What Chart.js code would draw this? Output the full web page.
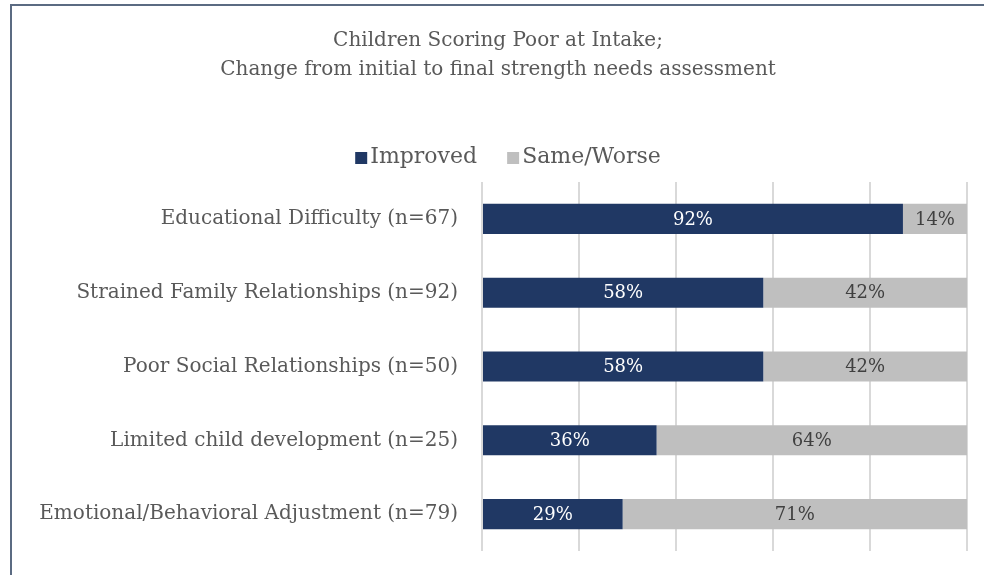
<!DOCTYPE html>
<html>
<head>
<meta charset="utf-8">
<script src="https://cdn.jsdelivr.net/npm/chart.js@4.4.0/dist/chart.umd.min.js"></script>
<style>
    html, body { margin: 0; padding: 0; background: #fff; overflow: hidden; }
    #frame {
        position: absolute; left: 10px; top: 4px; width: 980px; height: 580px;
        border-left: 2px solid #5b6b82; border-top: 2px solid #5b6b82;
    }
    #wrap { position: absolute; left: 12px; top: 6px; width: 972px; height: 573px; }
</style>
</head>
<body>
<div id="frame"></div>
<div id="wrap"><canvas id="graph"></canvas></div>
<script>
var categories = [
    "Educational Difficulty (n=67)",
    "Strained Family Relationships (n=92)",
    "Poor Social Relationships (n=50)",
    "Limited child development (n=25)",
    "Emotional/Behavioral Adjustment (n=79)"
];
var improved = [92, 58, 58, 36, 29];
var sameWorse = [14, 42, 42, 64, 71];
var xTicks = [0, 20, 40, 60, 80, 100];

var serif = '"DejaVu Serif", "Liberation Serif", serif';

// 100% stacked: each row is scaled to its own total
function share(list, i) {
    return list[i] / (improved[i] + sameWorse[i]) * 100;
}
var improvedShare = improved.map(function (v, i) { return share(improved, i); });
var sameShare = sameWorse.map(function (v, i) { return share(sameWorse, i); });

var labelPlugin = {
    id: 'barLabels',
    afterDatasetsDraw: function (chart) {
        var ctx = chart.ctx;
        var raw = [improved, sameWorse];
        var colors = ['#ffffff', '#404040'];
        ctx.save();
        ctx.font = '18px ' + serif;
        ctx.textAlign = 'center';
        ctx.textBaseline = 'middle';
        chart.data.datasets.forEach(function (ds, d) {
            var meta = chart.getDatasetMeta(d);
            meta.data.forEach(function (bar, i) {
                ctx.fillStyle = colors[d];
                ctx.fillText(raw[d][i] + '%', (bar.x + bar.base) / 2, bar.y + 1);
            });
        });
        ctx.restore();
    }
};

// legend drawn by hand: small gap between box and text, like the original
var legendPlugin = {
    id: 'simpleLegend',
    afterDraw: function (chart) {
        var ctx = chart.ctx;
        var sets = chart.data.datasets;
        var box = 12, gap = 3, between = 30, y = 151;
        ctx.save();
        ctx.font = '22px ' + serif;
        ctx.textBaseline = 'middle';
        var total = 0;
        sets.forEach(function (ds, i) {
            total += box + gap + ctx.measureText(ds.label).width + (i ? between : 0);
        });
        var x = chart.width / 2 + 10 - total / 2;
        sets.forEach(function (ds) {
            ctx.fillStyle = ds.backgroundColor;
            ctx.fillRect(x, y - box / 2 + 1, box, box);
            x += box + gap;
            ctx.fillStyle = '#595959';
            ctx.fillText(ds.label, x, y);
            x += ctx.measureText(ds.label).width + between;
        });
        ctx.restore();
    }
};

var graphBox = document.getElementById('graph').getContext('2d');
new Chart(graphBox, {
    type: 'bar',
    data: {
        labels: categories,
        datasets: [{
            label: 'Improved',
            data: improvedShare,
            backgroundColor: '#203864',
            categoryPercentage: 0.8,
            barPercentage: 0.51
        }, {
            label: 'Same/Worse',
            data: sameShare,
            backgroundColor: '#bfbfbf',
            categoryPercentage: 0.8,
            barPercentage: 0.51
        }]
    },
    options: {
        indexAxis: 'y',
        responsive: true,
        maintainAspectRatio: false,
        animation: false,
        layout: { padding: { top: 20, right: 17, bottom: 0, left: 17 } },
        plugins: {
            title: {
                display: true,
                text: ['Children Scoring Poor at Intake;', 'Change from initial to final strength needs assessment'],
                color: '#595959',
                font: { family: serif, size: 20, weight: 'normal', lineHeight: 1.45 },
                padding: { top: 0, bottom: 98 }
            },
            legend: { display: false },
            tooltip: { enabled: false }
        },
        scales: {
            x: {
                stacked: true,
                min: 0,
                max: 100,
                afterBuildTicks: function (scale) {
                    scale.ticks = xTicks.map(function (v) { return { value: v }; });
                },
                afterFit: function (scale) { scale.height = 0; },
                ticks: { display: false },
                grid: { color: '#d9d9d9', lineWidth: 2, drawTicks: false },
                border: { display: false }
            },
            y: {
                stacked: true,
                afterFit: function (scale) { scale.width = 453; },
                ticks: {
                    color: '#595959',
                    padding: 16,
                    font: { family: serif, size: 20 }
                },
                grid: { display: false },
                border: { display: false }
            }
        }
    },
    plugins: [labelPlugin, legendPlugin]
});
</script>
</body>
</html>
